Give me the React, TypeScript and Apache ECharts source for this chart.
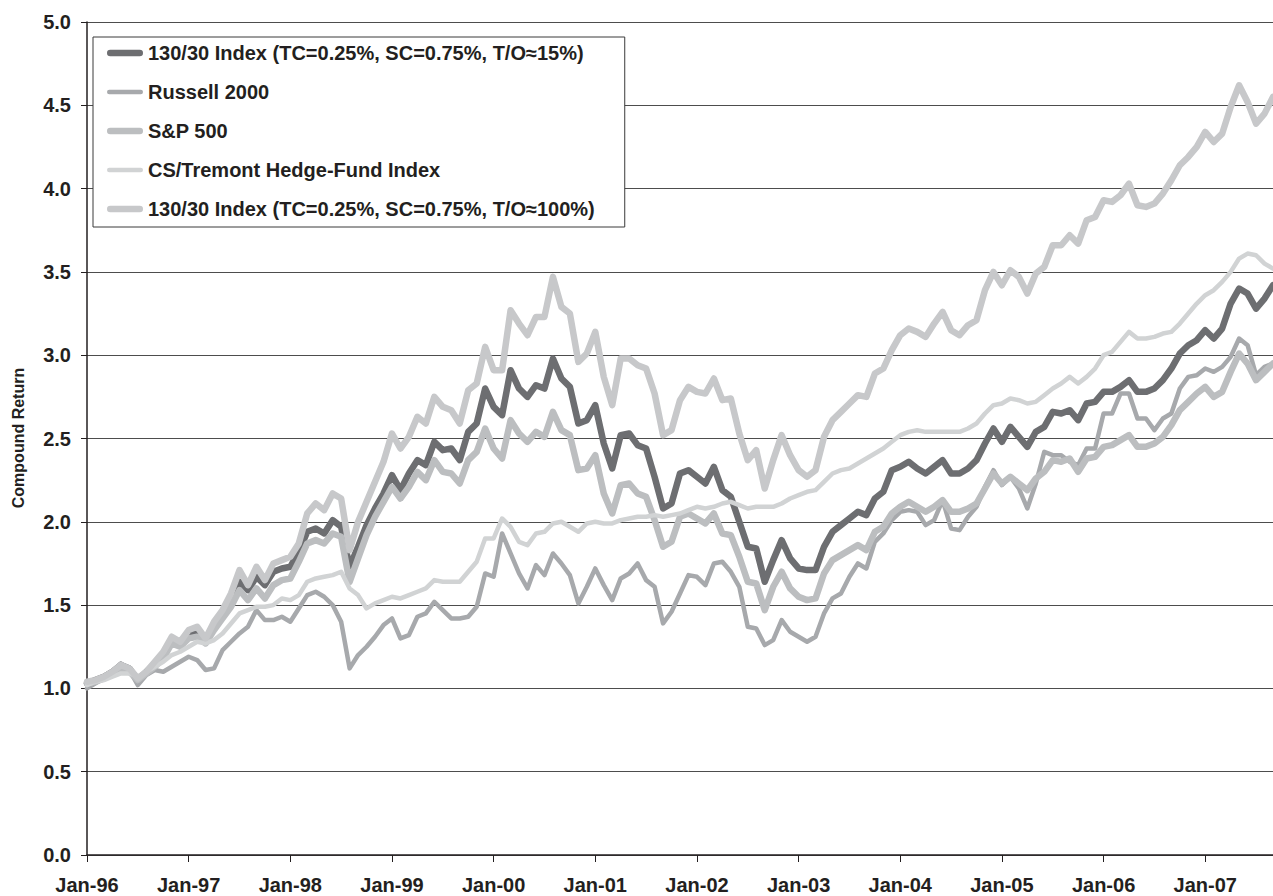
import React, { useEffect, useRef } from "react";
import * as echarts from "echarts";

// ---------- data ----------
const MONTHS = ["Jan", "Feb", "Mar", "Apr", "May", "Jun", "Jul", "Aug", "Sep", "Oct", "Nov", "Dec"];
const START_YEAR = 1996;
const Y_TITLE = "Compound Return";

const seriesNames = [
  "130/30 Index (TC=0.25%, SC=0.75%, T/O\u224815%)",
  "Russell 2000",
  "S&P 500",
  "CS/Tremont Hedge-Fund Index",
  "130/30 Index (TC=0.25%, SC=0.75%, T/O\u2248100%)",
];

const index15 = [
  1.03, 1.05, 1.07, 1.10, 1.14, 1.12, 1.05, 1.10, 1.15, 1.20,
  1.29, 1.27, 1.33, 1.35, 1.29, 1.38, 1.45, 1.52, 1.64, 1.59,
  1.67, 1.62, 1.70, 1.72, 1.73, 1.82, 1.94, 1.96, 1.93, 2.01,
  1.97, 1.73, 1.85, 1.98, 2.08, 2.17, 2.28, 2.19, 2.29, 2.37,
  2.34, 2.48, 2.43, 2.44, 2.37, 2.54, 2.59, 2.80, 2.69, 2.64,
  2.91, 2.80, 2.75, 2.82, 2.80, 2.98, 2.86, 2.81, 2.59, 2.61,
  2.70, 2.47, 2.32, 2.52, 2.53, 2.46, 2.44, 2.27, 2.08, 2.11,
  2.29, 2.31, 2.27, 2.23, 2.33, 2.19, 2.15, 2.00, 1.85, 1.84,
  1.64, 1.77, 1.89, 1.78, 1.72, 1.71, 1.71, 1.85, 1.94, 1.98,
  2.02, 2.06, 2.04, 2.14, 2.18, 2.31, 2.33, 2.36, 2.32, 2.29,
  2.33, 2.37, 2.29, 2.29, 2.32, 2.37, 2.47, 2.56, 2.48, 2.57,
  2.51, 2.45, 2.54, 2.57, 2.66, 2.65, 2.67, 2.61, 2.71, 2.72,
  2.78, 2.78, 2.81, 2.85, 2.78, 2.78, 2.80, 2.85, 2.92, 3.01,
  3.06, 3.09, 3.15, 3.10, 3.16, 3.31, 3.40, 3.37, 3.28, 3.34, 3.42,
];

const russell2000 = [
  1.00, 1.03, 1.06, 1.10, 1.15, 1.11, 1.02, 1.08, 1.11, 1.10,
  1.13, 1.16, 1.19, 1.17, 1.11, 1.12, 1.23, 1.28, 1.33, 1.37,
  1.47, 1.41, 1.41, 1.43, 1.40, 1.48, 1.56, 1.58, 1.55, 1.50,
  1.40, 1.12, 1.20, 1.25, 1.31, 1.38, 1.42, 1.30, 1.32, 1.43,
  1.45, 1.52, 1.47, 1.42, 1.42, 1.43, 1.49, 1.69, 1.67, 1.93,
  1.81, 1.69, 1.60, 1.74, 1.68, 1.81, 1.75, 1.68, 1.51, 1.61,
  1.72, 1.62, 1.53, 1.66, 1.69, 1.75, 1.65, 1.61, 1.39, 1.46,
  1.57, 1.68, 1.67, 1.62, 1.75, 1.76, 1.70, 1.61, 1.37, 1.36,
  1.26, 1.29, 1.41, 1.34, 1.31, 1.28, 1.31, 1.45, 1.54, 1.57,
  1.67, 1.75, 1.72, 1.88, 1.93, 2.01, 2.06, 2.07, 2.06, 1.98,
  2.01, 2.13, 1.96, 1.95, 2.03, 2.09, 2.21, 2.31, 2.22, 2.27,
  2.20, 2.08, 2.23, 2.42, 2.40, 2.40, 2.36, 2.34, 2.44, 2.44,
  2.65, 2.65, 2.77, 2.77, 2.62, 2.62, 2.55, 2.62, 2.65, 2.80,
  2.87, 2.88, 2.92, 2.90, 2.93, 2.99, 3.10, 3.06, 2.88, 2.93, 2.95,
];

const sp500 = [
  1.03, 1.04, 1.06, 1.09, 1.12, 1.10, 1.05, 1.09, 1.13, 1.18,
  1.27, 1.25, 1.30, 1.31, 1.27, 1.35, 1.42, 1.49, 1.59, 1.53,
  1.60, 1.54, 1.62, 1.65, 1.66, 1.76, 1.87, 1.89, 1.87, 1.93,
  1.91, 1.64, 1.78, 1.92, 2.03, 2.12, 2.21, 2.14, 2.21, 2.30,
  2.25, 2.37, 2.30, 2.29, 2.23, 2.37, 2.42, 2.56, 2.44, 2.38,
  2.61, 2.53, 2.48, 2.54, 2.51, 2.66, 2.55, 2.52, 2.31, 2.32,
  2.40, 2.17, 2.05, 2.22, 2.23, 2.17, 2.15, 2.01, 1.85, 1.88,
  2.03, 2.05, 2.02, 1.99, 2.05, 1.93, 1.92, 1.79, 1.64, 1.63,
  1.47, 1.61, 1.70, 1.60, 1.55, 1.53, 1.54, 1.69, 1.77, 1.80,
  1.83, 1.86, 1.83, 1.94, 1.97, 2.05, 2.09, 2.12, 2.09, 2.06,
  2.09, 2.13, 2.06, 2.06, 2.08, 2.11, 2.20, 2.29, 2.23, 2.27,
  2.23, 2.19, 2.26, 2.30, 2.37, 2.36, 2.38, 2.30, 2.38, 2.39,
  2.45, 2.46, 2.49, 2.52, 2.45, 2.45, 2.47, 2.51, 2.58, 2.67,
  2.72, 2.77, 2.81, 2.75, 2.78, 2.90, 3.01, 2.95, 2.85, 2.90, 2.95,
];

const csTremont = [
  1.02, 1.04, 1.05, 1.07, 1.09, 1.09, 1.07, 1.10, 1.13, 1.16,
  1.20, 1.22, 1.25, 1.28, 1.27, 1.29, 1.33, 1.39, 1.45, 1.47,
  1.49, 1.49, 1.50, 1.54, 1.53, 1.56, 1.64, 1.66, 1.67, 1.68,
  1.70, 1.60, 1.56, 1.48, 1.51, 1.53, 1.55, 1.54, 1.56, 1.58,
  1.60, 1.65, 1.64, 1.64, 1.64, 1.70, 1.76, 1.90, 1.90, 2.02,
  1.97, 1.88, 1.86, 1.93, 1.94, 1.99, 2.00, 1.97, 1.94, 1.99,
  2.00, 1.99, 1.99, 2.01, 2.02, 2.03, 2.03, 2.04, 2.03, 2.04,
  2.05, 2.07, 2.09, 2.08, 2.09, 2.11, 2.12, 2.10, 2.08, 2.09,
  2.09, 2.09, 2.11, 2.14, 2.16, 2.18, 2.19, 2.24, 2.29, 2.31,
  2.32, 2.35, 2.38, 2.41, 2.44, 2.48, 2.52, 2.54, 2.55, 2.54,
  2.54, 2.54, 2.54, 2.54, 2.56, 2.59, 2.65, 2.70, 2.71, 2.74,
  2.73, 2.71, 2.72, 2.76, 2.80, 2.83, 2.87, 2.83, 2.87, 2.92,
  3.00, 3.02, 3.08, 3.14, 3.10, 3.10, 3.11, 3.13, 3.14, 3.19,
  3.25, 3.31, 3.36, 3.39, 3.44, 3.50, 3.58, 3.61, 3.60, 3.55, 3.52,
];

const index100 = [
  1.04, 1.05, 1.07, 1.10, 1.14, 1.12, 1.06, 1.10, 1.16, 1.22,
  1.31, 1.28, 1.35, 1.37, 1.30, 1.40, 1.47, 1.57, 1.71, 1.62,
  1.73, 1.65, 1.75, 1.77, 1.79, 1.87, 2.05, 2.11, 2.07, 2.17,
  2.14, 1.83, 2.00, 2.12, 2.24, 2.36, 2.53, 2.44, 2.51, 2.63,
  2.59, 2.75, 2.69, 2.67, 2.59, 2.79, 2.83, 3.05, 2.91, 2.91,
  3.27, 3.19, 3.12, 3.23, 3.23, 3.47, 3.29, 3.25, 2.96, 3.01,
  3.14, 2.87, 2.70, 2.98, 2.98, 2.94, 2.92, 2.77, 2.52, 2.55,
  2.73, 2.81, 2.78, 2.77, 2.86, 2.73, 2.74, 2.53, 2.37, 2.43,
  2.20, 2.37, 2.52, 2.40, 2.31, 2.27, 2.31, 2.51, 2.61, 2.66,
  2.71, 2.76, 2.75, 2.89, 2.92, 3.03, 3.12, 3.16, 3.14, 3.11,
  3.19, 3.26, 3.15, 3.12, 3.18, 3.21, 3.39, 3.50, 3.42, 3.51,
  3.47, 3.37, 3.49, 3.53, 3.66, 3.66, 3.72, 3.67, 3.81, 3.83,
  3.93, 3.92, 3.96, 4.03, 3.90, 3.89, 3.91, 3.97, 4.05, 4.14,
  4.19, 4.25, 4.34, 4.28, 4.33, 4.49, 4.62, 4.52, 4.39, 4.45, 4.55,
];

const categories = index15.map(
  (_, i) =>
    `${MONTHS[i % 12]}-${String((START_YEAR + Math.floor(i / 12)) % 100).padStart(2, "0")}`
);

// ---------- styles ----------
const FONT = "'Liberation Sans', Arial, Helvetica, sans-serif";
const TEXT = "#231f20";
const seriesColors = ["#6d6e71", "#a7a9ac", "#bcbec0", "#d1d3d4", "#c7c8ca"];
const seriesWidths = [6.5, 4.5, 6.5, 4.5, 6.5];
const seriesData = [index15, russell2000, sp500, csTremont, index100];

// legend swatch: a rounded bar 36 px long, as thick as the series line
const swatchPath = (w: number) => {
  const r = w / 2;
  return `path://M${r},0 H${36 - r} A${r},${r} 0 0 1 ${36 - r},${w} H${r} A${r},${r} 0 0 1 ${r},0 Z`;
};

export default function App() {
  const ref = useRef<HTMLDivElement>(null);

  useEffect(() => {
    if (!ref.current) return;
    const chart = echarts.init(ref.current, undefined, { renderer: "svg" });
    const yearTick = (i: number) => i % 12 === 0;

    chart.setOption({
      animation: false,
      backgroundColor: "#ffffff",
      grid: { left: 87, right: 0, top: 22, bottom: 41, containLabel: false },
      graphic: [
        {
          type: "text",
          x: 18,
          y: 438,
          rotation: Math.PI / 2,
          silent: true,
          style: {
            text: Y_TITLE,
            font: `bold 16px ${FONT}`,
            fill: TEXT,
            align: "center",
            verticalAlign: "middle",
          },
        },
      ],
      legend: {
        orient: "vertical",
        left: 93,
        top: 37,
        padding: [6, 30, 8, 14],
        itemGap: 19,
        itemWidth: 36,
        itemHeight: 14,
        borderColor: "#3a3a3a",
        borderWidth: 1,
        backgroundColor: "#ffffff",
        selectedMode: false,
        symbolKeepAspect: true,
        data: seriesNames.map((name, k) => ({
          name,
          icon: swatchPath(seriesWidths[k]),
          itemStyle: { color: seriesColors[k], borderWidth: 0 },
        })),
        textStyle: {
          fontFamily: FONT,
          fontWeight: "bold",
          fontSize: 20,
          lineHeight: 20,
          color: TEXT,
        },
      },
      xAxis: {
        type: "category",
        data: categories,
        boundaryGap: false,
        axisLine: { show: true, lineStyle: { color: TEXT, width: 1.5 } },
        axisTick: {
          show: true,
          interval: yearTick,
          length: 7,
          lineStyle: { color: TEXT, width: 1 },
        },
        axisLabel: {
          interval: yearTick,
          fontFamily: FONT,
          fontWeight: "bold",
          fontSize: 20,
          color: TEXT,
          margin: 20,
        },
        splitLine: { show: false },
      },
      yAxis: {
        type: "value",
        min: 0,
        max: 5,
        interval: 0.5,
        axisLine: { show: true, lineStyle: { color: TEXT, width: 1.5 } },
        axisTick: { show: true, length: 6, lineStyle: { color: TEXT, width: 1 } },
        axisLabel: {
          formatter: (v: number) => v.toFixed(1),
          fontFamily: FONT,
          fontWeight: "bold",
          fontSize: 20,
          color: TEXT,
          margin: 16,
        },
        splitLine: { show: true, lineStyle: { color: "#4d4d4d", width: 1 } },
      },
      series: seriesNames.map((name, k) => ({
        name,
        type: "line",
        data: seriesData[k],
        symbol: "none",
        showSymbol: false,
        silent: true,
        color: seriesColors[k],
        itemStyle: { color: seriesColors[k] },
        lineStyle: {
          color: seriesColors[k],
          width: seriesWidths[k],
          cap: "round",
          join: "round",
        },
        emphasis: { disabled: true },
        z: 2 + k,
      })),
    });

    return () => chart.dispose();
  }, []);

  return (
    <div
      ref={ref}
      style={{ position: "fixed", left: 0, top: 0, width: 1273, height: 896, background: "#fff" }}
    />
  );
}
